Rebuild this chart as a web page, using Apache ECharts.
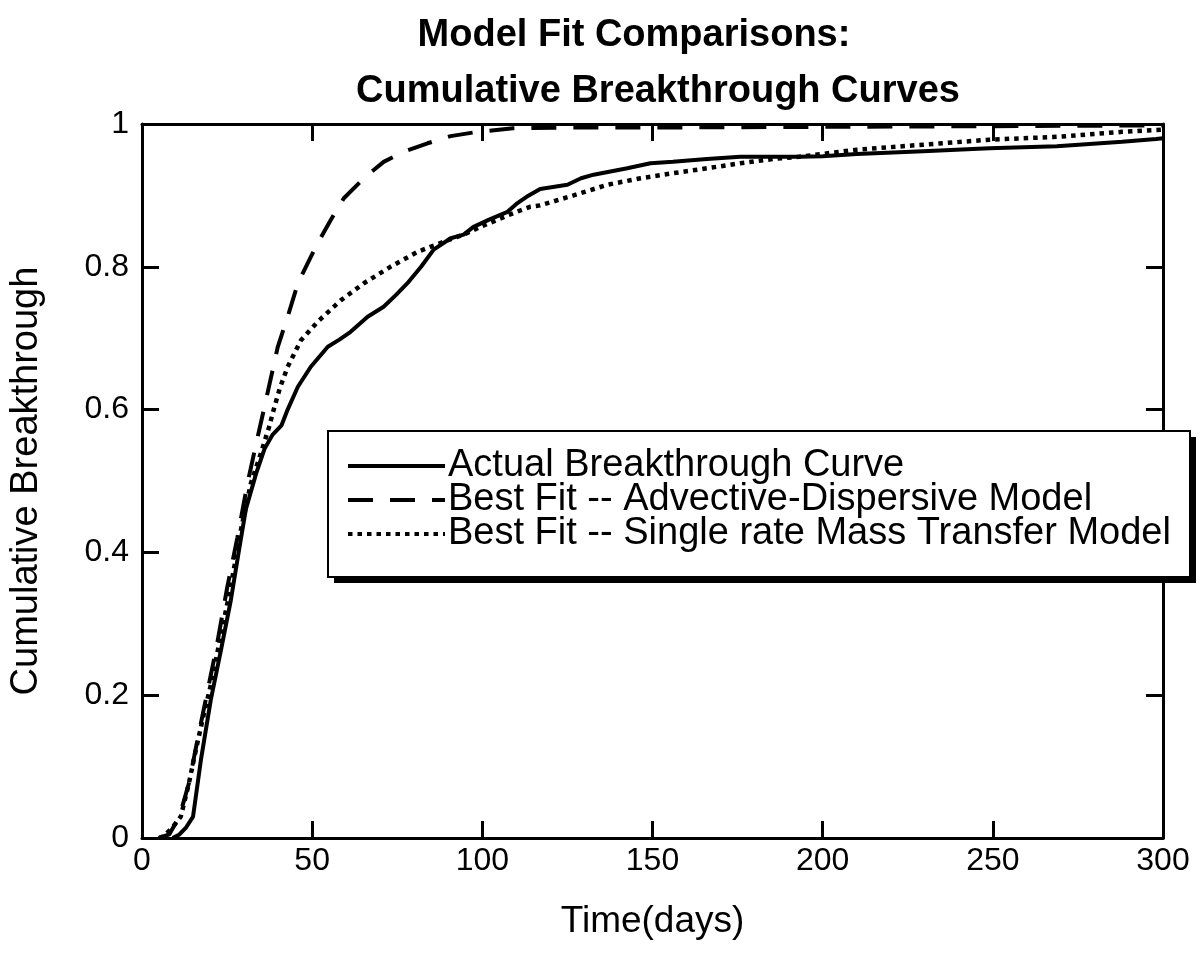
<!DOCTYPE html>
<html>
<head>
<meta charset="utf-8">
<title>Model Fit Comparisons</title>
<script src="https://cdn.jsdelivr.net/npm/echarts@6/dist/echarts.min.js"></script>
<style>
  html, body { margin: 0; padding: 0; background: #fff; }
  #chart { width: 1202px; height: 965px; }
</style>
</head>
<body>
<div id="chart"></div>
<script>
// Measured cumulative breakthrough (solid)
const actualDays = [9, 11, 13, 15, 17.3, 20.2, 23.2, 26.1, 28.5, 30.5, 33.5, 36, 38.4, 41, 42.8, 45.8, 49.6, 54.6, 58, 61.3, 66.3, 71, 74.5, 78, 82, 85.7, 90.7, 94.5, 97.4, 102, 107.4, 110, 113, 117, 125, 129, 132.7, 142.6, 149.4, 156, 166, 175.8, 193, 200, 210, 229.5, 249, 268.8, 288, 298, 300];
const actualValues = [0, 0.005, 0.015, 0.03, 0.109, 0.193, 0.263, 0.333, 0.403, 0.46, 0.51, 0.545, 0.565, 0.578, 0.6, 0.632, 0.66, 0.688, 0.698, 0.709, 0.73, 0.744, 0.76, 0.777, 0.8, 0.824, 0.84, 0.845, 0.856, 0.866, 0.877, 0.888, 0.898, 0.909, 0.915, 0.924, 0.929, 0.938, 0.945, 0.947, 0.951, 0.954, 0.954, 0.955, 0.958, 0.962, 0.966, 0.969, 0.975, 0.979, 0.98];

// Advective-dispersive model fit (dashed)
const adDays = [5, 8, 11, 13.8, 16, 19, 22, 25, 28, 31, 34, 35.8, 39.9, 42.8, 45.8, 48.7, 51.6, 55.5, 59.3, 65.2, 71, 76.9, 83.9, 90.7, 98.6, 109, 125, 150, 200, 250, 300];
const adValues = [0, 0.005, 0.03, 0.077, 0.13, 0.2, 0.27, 0.35, 0.42, 0.497, 0.562, 0.6, 0.688, 0.73, 0.777, 0.805, 0.833, 0.866, 0.896, 0.924, 0.947, 0.961, 0.973, 0.983, 0.989, 0.994, 0.995, 0.995, 0.996, 0.997, 0.998];

// Single-rate mass transfer model fit (dotted)
const mtDays = [5, 6.5, 9, 11.4, 13.8, 15.8, 18, 20.5, 23, 26, 29, 32, 35, 37.3, 38.7, 40.5, 42.8, 46.7, 51.6, 58.4, 65.2, 73, 81, 88.6, 94.5, 100, 104.5, 107.4, 114, 117, 126.8, 136.8, 146.5, 156, 166, 175.8, 185.5, 193, 210, 229.5, 249, 268.8, 288, 300];
const mtValues = [0, 0.003, 0.015, 0.03, 0.077, 0.123, 0.17, 0.22, 0.28, 0.35, 0.43, 0.497, 0.54, 0.575, 0.6, 0.63, 0.66, 0.697, 0.723, 0.753, 0.777, 0.8, 0.821, 0.835, 0.845, 0.857, 0.866, 0.872, 0.884, 0.886, 0.9, 0.915, 0.924, 0.931, 0.938, 0.945, 0.951, 0.954, 0.964, 0.971, 0.978, 0.982, 0.989, 0.992];

const seriesNames = [
  'Actual Breakthrough Curve',
  'Best Fit -- Advective-Dispersive Model',
  'Best Fit -- Single rate Mass Transfer Model'
];
const titleLines = ['Model Fit Comparisons:', 'Cumulative Breakthrough Curves'];
const xAxisName = 'Time(days)';
const yAxisName = 'Cumulative Breakthrough';

const zip = (xs, ys) => xs.map((x, i) => [x, ys[i]]);

const FONT = '"Liberation Sans", Arial, Helvetica, sans-serif';
const INK = '#000';

// Frame: every side carries its own line and inward ticks
const tickStyle = { show: true, inside: true, length: 17, lineStyle: { color: INK, width: 3 } };
const frameLine = { show: true, onZero: false, lineStyle: { color: INK, width: 3 } };

// Legend panel with a hard drop shadow
const legendBox = { x: 328, y: 431, w: 862, h: 146, shadowDx: 6, shadowDy: 6 };

const chart = echarts.init(document.getElementById('chart'), null, { renderer: 'canvas' });

chart.setOption({
  backgroundColor: '#fff',
  animation: false,
  title: [
    {
      text: titleLines[0],
      left: 629, top: 12, textAlign: 'center',
      textStyle: { fontFamily: FONT, fontSize: 38, fontWeight: 'bold', color: INK }
    },
    {
      text: titleLines[1],
      left: 653, top: 68, textAlign: 'center',
      textStyle: { fontFamily: FONT, fontSize: 38, fontWeight: 'bold', color: INK }
    }
  ],
  grid: { left: 141, right: 39, top: 124, bottom: 127, containLabel: false },
  graphic: [
    {
      type: 'rect', z: 10, silent: true,
      shape: { x: legendBox.x + legendBox.shadowDx, y: legendBox.y + legendBox.shadowDy, width: legendBox.w, height: legendBox.h },
      style: { fill: INK }
    },
    {
      type: 'rect', z: 11, silent: true,
      shape: { x: legendBox.x, y: legendBox.y, width: legendBox.w, height: legendBox.h },
      style: { fill: '#fff', stroke: INK, lineWidth: 2 }
    }
  ],
  legend: {
    orient: 'vertical',
    left: 328, top: 431, z: 20,
    data: seriesNames,
    itemWidth: 97, itemHeight: 14, itemGap: -4,
    padding: [16, 10, 10, 18],
    backgroundColor: 'transparent', borderWidth: 0,
    selectedMode: false,
    itemStyle: { opacity: 0 },
    lineStyle: { width: 4 },
    textStyle: { fontFamily: FONT, fontSize: 38, color: INK, lineHeight: 33.5, padding: [0, 0, 0, -2] }
  },
  xAxis: [
    {
      type: 'value', min: 0, max: 300, interval: 50, position: 'bottom',
      name: xAxisName, nameLocation: 'middle', nameGap: 65,
      nameTextStyle: { fontFamily: FONT, fontSize: 37, color: INK },
      axisLine: frameLine, axisTick: tickStyle,
      axisLabel: { fontFamily: FONT, fontSize: 32, color: INK, margin: 7 },
      splitLine: { show: false }
    },
    {
      type: 'value', min: 0, max: 300, interval: 50, position: 'top',
      axisLine: frameLine, axisTick: tickStyle,
      axisLabel: { show: false }, splitLine: { show: false }
    }
  ],
  yAxis: [
    {
      type: 'value', min: 0, max: 1, interval: 0.2, position: 'left',
      name: yAxisName, nameLocation: 'middle', nameGap: 96,
      nameTextStyle: { fontFamily: FONT, fontSize: 38, color: INK },
      axisLine: frameLine, axisTick: tickStyle,
      axisLabel: { fontFamily: FONT, fontSize: 32, color: INK, margin: 13 },
      splitLine: { show: false }
    },
    {
      type: 'value', min: 0, max: 1, interval: 0.2, position: 'right',
      axisLine: frameLine, axisTick: tickStyle,
      axisLabel: { show: false }, splitLine: { show: false }
    }
  ],
  series: [
    {
      name: seriesNames[0], type: 'line', symbol: 'none', smooth: false,
      data: zip(actualDays, actualValues),
      lineStyle: { color: INK, width: 4, type: 'solid' },
      itemStyle: { color: INK }, z: 3
    },
    {
      name: seriesNames[1], type: 'line', symbol: 'none', smooth: false,
      data: zip(adDays, adValues),
      lineStyle: { color: INK, width: 4, type: [25, 17] },
      itemStyle: { color: INK }, z: 2
    },
    {
      name: seriesNames[2], type: 'line', symbol: 'none', smooth: false,
      data: zip(mtDays, mtValues),
      lineStyle: { color: INK, width: 4.5, type: [4.5, 5] },
      itemStyle: { color: INK }, z: 2
    }
  ]
});
</script>
</body>
</html>
